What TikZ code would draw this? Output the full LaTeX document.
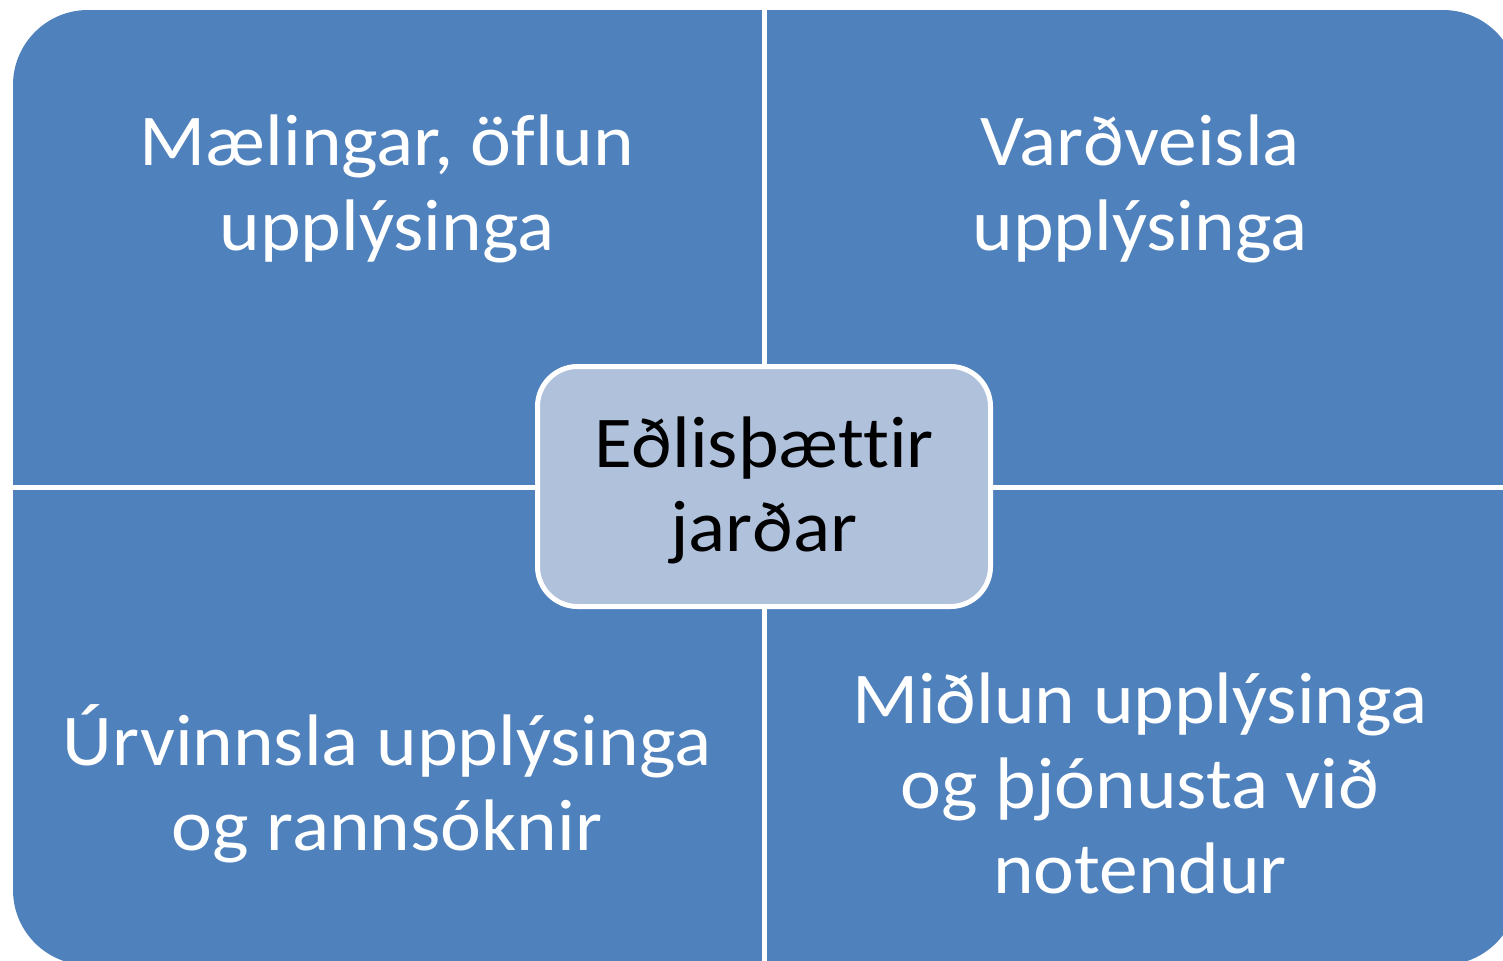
\documentclass[tikz,border=0pt]{standalone}
\usepackage{fontspec}
\setmainfont[Ligatures=CommonOff,FakeStretch=1.06]{Carlito}
\usetikzlibrary{calc}

\definecolor{quadblue}{HTML}{4F81BD}
\definecolor{hubblue}{HTML}{B0C1DC}

\tikzset{
    quadtext/.style={text=white, align=center, anchor=base,
        font=\fontsize{36.5}{42.5}\selectfont},
    hubbox/.style={draw=white, line width=2.5pt, fill=hubblue,
        rounded corners=20pt, minimum width=226.5pt, minimum height=120pt,
        align=center, text=black, text height=68pt, text depth=3.5pt,
        font=\fontsize{36.5}{42}\selectfont},
    divider/.style={white, line width=2.5pt}
}

\begin{document}
\begin{tikzpicture}[x=0.5pt,y=-0.5pt]
                \useasboundingbox (0,0) rectangle (1503,960);

                \coordinate (NW) at (13,10);
                \coordinate (SE) at (1518,965);
                \coordinate (M) at (764.5,487.5);

                \begin{scope}
                \clip (0,0) rectangle (1503,960);
                \fill[quadblue, rounded corners=37.5pt] (NW) rectangle (SE);
                \draw[divider] (M |- NW) -- (M |- SE);
                \draw[divider] (M -| NW) -- (M -| SE);
                \end{scope}

                \node[hubbox] (hub) at (764,486.5) {Eðlisþættir\\jarðar};

                \node[quadtext] (measure) at (387,250) {Mælingar, öflun\\upplýsinga};
                \node[quadtext] (archive) at (1140,250) {Varðveisla\\upplýsinga};
                \node[quadtext] (process) at (387,850) {Úrvinnsla upplýsinga\\og rannsóknir};
                \node[quadtext] (share) at (1140,893) {Miðlun upplýsinga\\og þjónusta við\\notendur};
\end{tikzpicture}
\end{document}
